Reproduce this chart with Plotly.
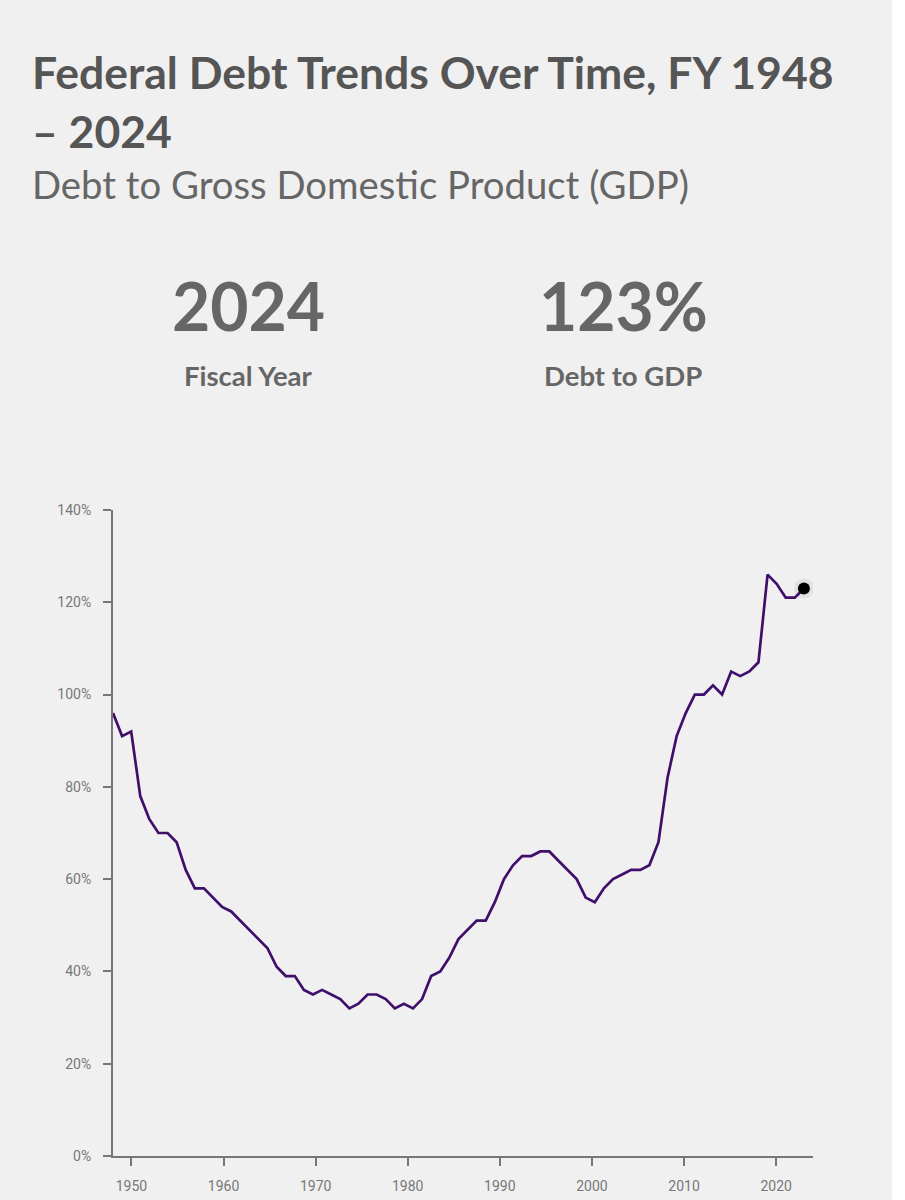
import plotly.graph_objects as go

# Federal debt (total) as share of GDP, fiscal years 1948 - 2024
years = list(range(1948, 2025))
debt_pct = [
    96, 91, 92, 78, 73, 70, 70, 68, 62, 58,   # 1948-1957
    58, 56, 54, 53, 51, 49, 47, 45, 41, 39,   # 1958-1967
    39, 36, 35, 36, 35, 34, 32, 33, 35, 35,   # 1968-1977
    34, 32, 33, 32, 34, 39, 40, 43, 47, 49,   # 1978-1987
    51, 51, 55, 60, 63, 65, 65, 66, 66, 64,   # 1988-1997
    62, 60, 56, 55, 58, 60, 61, 62, 62, 63,   # 1998-2007
    68, 82, 91, 96, 100, 100, 102, 100, 105, 104,  # 2008-2017
    105, 107, 126, 124, 121, 121, 123,        # 2018-2024
]
x_ticks = [1950, 1960, 1970, 1980, 1990, 2000, 2010, 2020]
y_ticks = [0, 20, 40, 60, 80, 100, 120, 140]
y_tick_text = [f"{v}%" for v in y_ticks]

title_line1 = "Federal Debt Trends Over Time, FY 1948"
title_line2 = "– 2024"
subtitle = "Debt to Gross Domestic Product (GDP)"
kpis = [("2024", "Fiscal Year"), ("123%", "Debt to GDP")]

W, H = 905, 1200
L, R, T, B = 113, 813, 510, 1156   # plot area in pixels


def px(x):
    return (x - L) / (R - L)


def py(y):
    return (B - y) / (B - T)


TEXT = "#555555"
AXIS = "#777777"
LINE = "#3f0f6b"

fig = go.Figure()

# soft halo behind the last point
fig.add_trace(go.Scatter(
    x=years[-1:], y=debt_pct[-1:], mode="markers",
    marker=dict(color="rgba(215,215,215,0.6)", size=20),
    hoverinfo="skip", showlegend=False,
))
fig.add_trace(go.Scatter(
    x=years, y=debt_pct, mode="lines",
    line=dict(color=LINE, width=2.7),
    hoverinfo="skip", showlegend=False,
))
fig.add_trace(go.Scatter(
    x=years[-1:], y=debt_pct[-1:], mode="markers",
    marker=dict(color="black", size=12),
    hoverinfo="skip", showlegend=False,
))

# tick axis (the chart draws its ticks on a slightly different scale)
fig.add_trace(go.Scatter(
    x=[years[0], years[-1]], y=[0, 0], mode="none",
    xaxis="x2", hoverinfo="skip", showlegend=False,
))

annotations = [
    dict(text=title_line1, x=px(30), y=py(72), xanchor="left", yanchor="middle",
         font=dict(family="Lato", size=44.5, color=TEXT, weight="bold")),
    dict(text=title_line2, x=px(30), y=py(130), xanchor="left", yanchor="middle",
         font=dict(family="Lato", size=44.5, color=TEXT, weight="bold")),
    dict(text=subtitle, x=px(30), y=py(184), xanchor="left", yanchor="middle",
         font=dict(family="Lato", size=38.3, color="#666666")),
]
for cx, (big, small) in zip([248, 623], kpis):
    annotations.append(dict(text=big, x=px(cx), y=py(305), xanchor="center", yanchor="middle",
                            font=dict(family="Lato", size=66, color="#666666", weight="bold")))
    annotations.append(dict(text=small, x=px(cx), y=py(375.5), xanchor="center", yanchor="middle",
                            font=dict(family="Lato", size=27.5, color="#666666", weight="bold")))
for a in annotations:
    a.update(xref="paper", yref="paper", showarrow=False)

fig.update_layout(
    width=W, height=H,
    margin=dict(l=L, r=W - R, t=T, b=H - B, pad=0, autoexpand=False),
    paper_bgcolor="#f0f0f0", plot_bgcolor="#f0f0f0",
    annotations=annotations,
    shapes=[dict(type="rect", xref="paper", yref="paper",
                 x0=px(892), x1=px(910), y0=py(1210), y1=py(-10),
                 fillcolor="white", line=dict(width=0), layer="below")],
    xaxis=dict(range=[1948, 2025], visible=False, fixedrange=True, automargin=False),
    xaxis2=dict(
        overlaying="x", anchor="y", side="bottom", range=[1948, 2024],
        tickvals=x_ticks, ticks="outside", ticklen=8, tickwidth=1.5, tickcolor=AXIS,
        showline=True, linecolor=AXIS, linewidth=2, showgrid=False, zeroline=False,
        tickfont=dict(family="Roboto", size=14, color=AXIS), ticklabelstandoff=8,
        automargin=False,
    ),
    yaxis=dict(
        range=[0, 140], tickvals=y_ticks, ticktext=y_tick_text,
        ticks="outside", ticklen=8, tickwidth=1.5, tickcolor=AXIS,
        showline=True, linecolor=AXIS, linewidth=2, showgrid=False, zeroline=False,
        tickfont=dict(family="Roboto", size=14, color=AXIS), ticklabelstandoff=9,
        automargin=False,
    ),
)

fig.write_html("out.html", config={"displayModeBar": False},
               post_script="document.body.style.margin = '0';")
